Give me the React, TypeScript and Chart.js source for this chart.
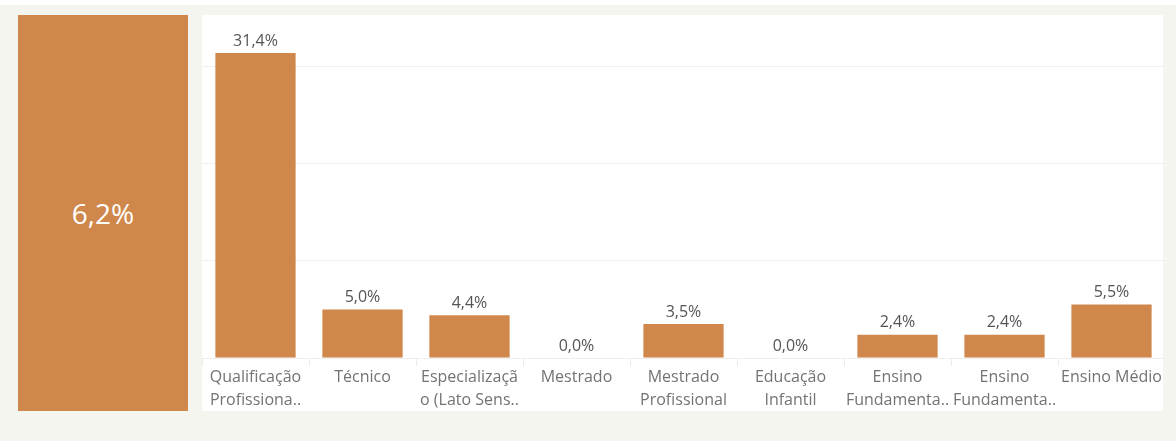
import React, { useEffect, useRef } from "react";
import { Chart, registerables } from "chart.js";

Chart.register(...registerables);

const categories: string[][] = [
  ["Qualificação", "Profissiona.."],
  ["Técnico"],
  ["Especializaçã", "o (Lato Sens.."],
  ["Mestrado"],
  ["Mestrado", "Profissional"],
  ["Educação", "Infantil"],
  ["Ensino", "Fundamenta.."],
  ["Ensino", "Fundamenta.."],
  ["Ensino Médio"],
];
const values: number[] = [31.4, 5.0, 4.4, 0.0, 3.5, 0.0, 2.4, 2.4, 5.5];
const totalValue: number[] = [6.2];
const yTicks: number[] = [0, 10, 20, 30];

const BAR = "#cf874b";
const BG = "#f5f5ef";
const FONT = "'Open Sans', 'DejaVu Sans', sans-serif";

const fmt = (v: number) => v.toFixed(1).replace(".", ",") + "%";

const labelPlugin = {
  id: "barLabels",
  afterDatasetsDraw(chart: any) {
    const ctx = chart.ctx;
    const meta = chart.getDatasetMeta(0);
    ctx.save();
    ctx.font = `16px ${FONT}`;
    ctx.fillStyle = "#555555";
    ctx.textAlign = "center";
    ctx.textBaseline = "middle";
    meta.data.forEach((bar: any, i: number) => {
      ctx.fillText(fmt(values[i]), bar.x, bar.y - 12);
    });
    ctx.restore();
  },
};

export default function App() {
  const ref = useRef<HTMLCanvasElement | null>(null);

  useEffect(() => {
    document.body.style.margin = "0";
    if (!ref.current) return;
    const chart = new Chart(ref.current, {
      type: "bar",
      data: {
        labels: categories,
        datasets: [
          {
            data: values,
            backgroundColor: BAR,
            borderWidth: 0,
            categoryPercentage: 1,
            barPercentage: 0.75,
          },
        ],
      },
      options: {
        animation: false,
        responsive: false,
        events: [],
        layout: { padding: { top: 3, left: 0, right: 0, bottom: 0 } },
        plugins: {
          legend: { display: false },
          tooltip: { enabled: false },
          title: { display: false },
        },
        scales: {
          x: {
            offset: true,
            grid: {
              display: true,
              drawOnChartArea: false,
              drawTicks: true,
              tickLength: 8,
              color: "#ebebeb",
              offset: true,
            },
            border: { display: true, color: "#eeeeee" },
            ticks: {
              autoSkip: false,
              maxRotation: 0,
              minRotation: 0,
              padding: 0,
              color: "#737373",
              font: { family: FONT, size: 16, lineHeight: "23px" },
            },
          },
          y: {
            min: 0,
            max: 35,
            afterBuildTicks: (axis: any) => {
              axis.ticks = yTicks.map((v) => ({ value: v }));
            },
            grid: { color: "#f0f0f0", drawTicks: false },
            border: { display: false },
            ticks: { display: false },
          },
        },
      },
      plugins: [labelPlugin],
    });
    return () => chart.destroy();
  }, []);

  return (
    <div
      style={{
        position: "absolute",
        left: 0,
        top: 0,
        width: 1176,
        height: 441,
        background: BG,
        overflow: "hidden",
        fontFamily: FONT,
      }}
    >
      <div style={{ position: "absolute", left: 0, top: 0, width: 1176, height: 5, background: "#ffffff" }} />
      <div
        style={{
          position: "absolute",
          left: 18,
          top: 15,
          width: 170,
          height: 396,
          background: BAR,
          display: "flex",
          alignItems: "center",
          justifyContent: "center",
          color: "#ffffff",
          fontSize: 28,
          lineHeight: "28px",
        }}
      >
        {fmt(totalValue[0])}
      </div>
      <div style={{ position: "absolute", left: 202, top: 15, width: 961, height: 396, background: "#ffffff" }} />
      <canvas
        ref={ref}
        width={963}
        height={397}
        style={{ position: "absolute", left: 202, top: 15, width: 963, height: 397 }}
      />
    </div>
  );
}
